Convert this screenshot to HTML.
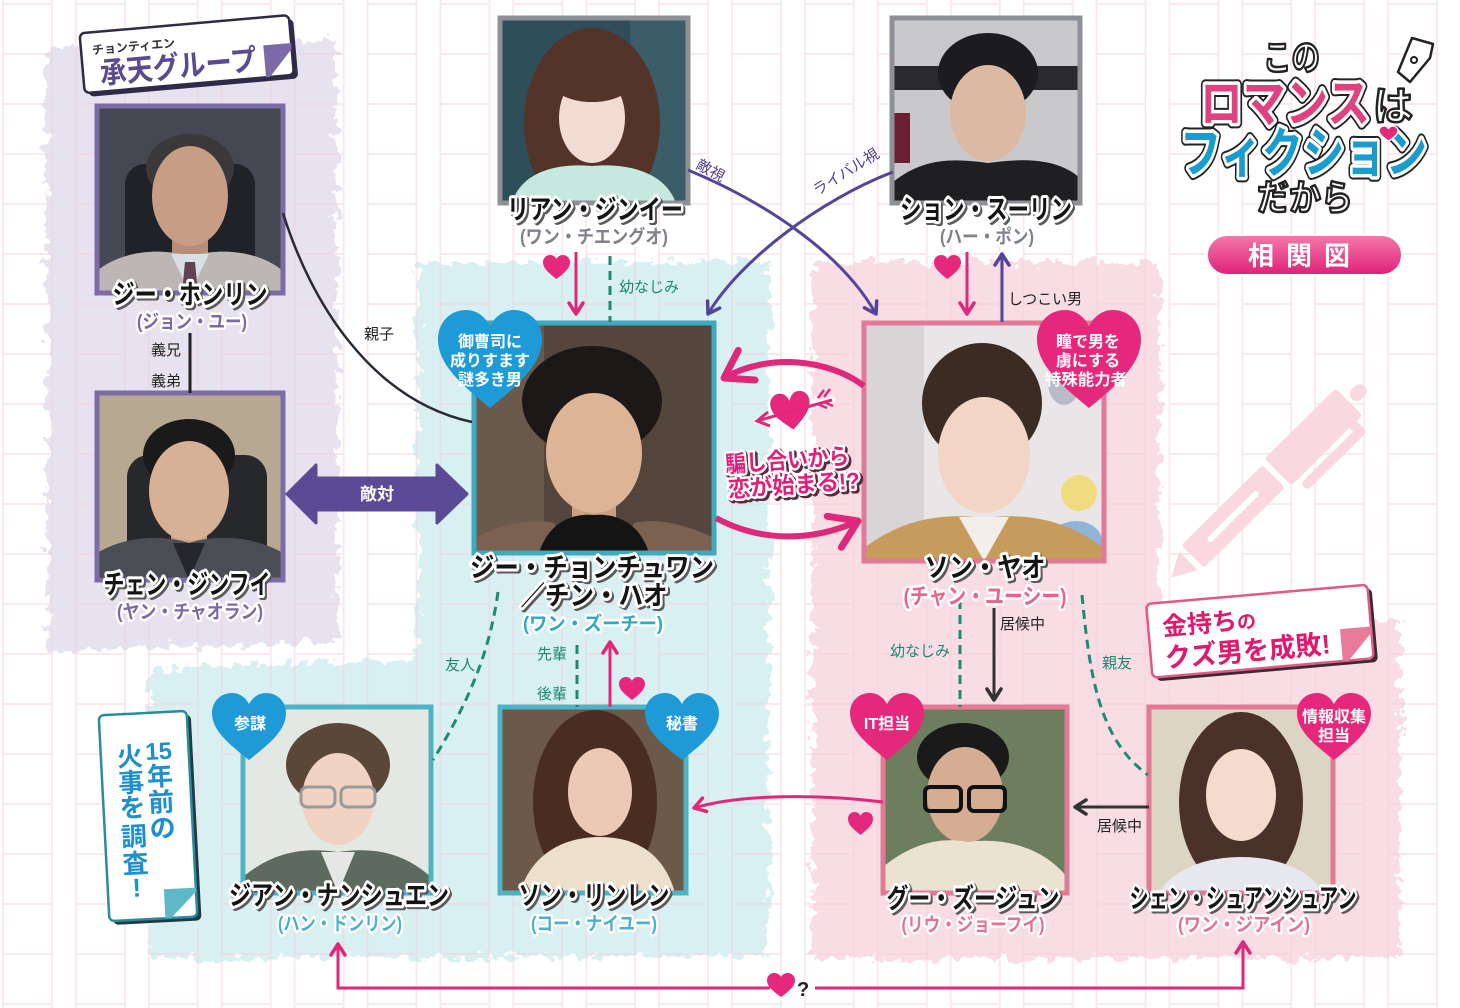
<!DOCTYPE html>
<html><head><meta charset="utf-8">
<style>
html,body{margin:0;padding:0;background:#fff;}
svg{display:block;}
svg text{font-family:"Liberation Sans","Noto Sans CJK JP",sans-serif;font-weight:bold;}
.n0{fill:#5a5a5a;stroke:#5a5a5a;stroke-width:6;stroke-linejoin:round;}
.n1{fill:#141414;stroke:#fff;stroke-width:6;stroke-linejoin:round;paint-order:stroke;}
.s1{stroke:#fff;stroke-width:5;stroke-linejoin:round;paint-order:stroke;}
.lb{font-size:15px;font-weight:normal;fill:#222;}
.lg{font-size:15px;font-weight:normal;fill:#1c8a74;}
.lp{font-size:15px;font-weight:normal;fill:#4f4190;}
.hw{fill:#fff;font-size:16px;text-anchor:middle;}
.fr{fill:none;stroke-width:5;}
</style></head>
<body>
<svg width="1460" height="1008" viewBox="0 0 1460 1008" xmlns="http://www.w3.org/2000/svg">
<defs>
<pattern id="grid" patternUnits="userSpaceOnUse" x="2" y="3" width="72.9" height="50">
<path d="M1 0V50M50 0V50M1 1H50" stroke="#f3cfd9" stroke-width="1.8" fill="none"/>
</pattern>
<filter id="rough" filterUnits="userSpaceOnUse" x="0" y="0" width="1460" height="1008">
<feTurbulence type="fractalNoise" baseFrequency="0.09" numOctaves="3" seed="3"/>
<feDisplacementMap in="SourceGraphic" scale="22" xChannelSelector="R" yChannelSelector="G"/>
</filter>
<linearGradient id="pill" x1="0" y1="0" x2="0" y2="1"><stop offset="0" stop-color="#f57aab"/><stop offset="1" stop-color="#df1f78"/></linearGradient>
<marker id="mp" markerUnits="userSpaceOnUse" markerWidth="20" markerHeight="20" refX="14" refY="10" orient="auto"><path d="M3 3L14 10L3 17" fill="none" stroke="#e0287a" stroke-width="3.5" stroke-linecap="round" stroke-linejoin="round"/></marker>
<marker id="mv" markerUnits="userSpaceOnUse" markerWidth="20" markerHeight="20" refX="14" refY="10" orient="auto"><path d="M3 3L14 10L3 17" fill="none" stroke="#55459a" stroke-width="3.5" stroke-linecap="round" stroke-linejoin="round"/></marker>
<marker id="md" markerUnits="userSpaceOnUse" markerWidth="20" markerHeight="20" refX="14" refY="10" orient="auto"><path d="M3 3L14 10L3 17" fill="none" stroke="#333" stroke-width="3.5" stroke-linecap="round" stroke-linejoin="round"/></marker>
<marker id="mb" markerUnits="userSpaceOnUse" markerWidth="44" markerHeight="44" refX="34" refY="22" orient="auto"><path d="M8 5L34 22L8 39" fill="none" stroke="#e0287a" stroke-width="7" stroke-linecap="round" stroke-linejoin="round"/></marker>
</defs>

<rect width="1460" height="1008" fill="#fff"/>

<g filter="url(#rough)">
<path d="M45,48 L336,40 L338,642 L48,652Z" fill="#e6e2ef"/>
<path d="M417,262 L770,262 L768,956 L148,958 L148,668 L418,660Z" fill="#d9f0f3"/>
<path d="M812,262 L1160,262 L1160,624 L1400,620 L1400,958 L812,960Z" fill="#f9dde5"/>
</g>

<rect width="1460" height="1008" fill="url(#grid)" opacity="0.5"/>

<!-- pen decoration -->
<g transform="translate(1268,482) rotate(-44.7)" fill="#f9d8df">
<path d="M-136,0 L-112,-13 L-112,13Z"/>
<rect x="-106" y="-16" width="114" height="32" rx="3"/>
<rect x="14" y="-19" width="100" height="38" rx="3"/>
<rect x="118" y="-7" width="18" height="14" rx="7"/>
<rect x="22" y="24" width="82" height="10" rx="5"/>
<rect x="96" y="16" width="10" height="18" rx="4"/>
<rect x="-84" y="-3" width="70" height="6" rx="3" fill="#fff"/>
</g>

<!-- ===== photos ===== -->
<svg x="97" y="106" width="186" height="187">
<rect width="186" height="187" fill="#454852"/>
<rect x="28" y="58" width="130" height="129" rx="20" fill="#1f2226"/>
<ellipse cx="93" cy="62" rx="44" ry="34" fill="#3a3838"/>
<rect x="75" y="120" width="36" height="35" fill="#b68e79"/>
<ellipse cx="93" cy="90" rx="38" ry="50" fill="#c79d86"/>
<path d="M0 187L0 165C20 148 55 140 93 150C131 140 166 148 186 165L186 187Z" fill="#bcb7b5"/>
<path d="M74 148L93 187L112 148Z" fill="#d9dee6"/>
<path d="M88 156L98 156L101 187L85 187Z" fill="#5e4452"/>
</svg>
<rect x="97" y="106" width="186" height="187" class="fr" stroke="#7b6ba6"/>

<svg x="97" y="393" width="186" height="187">
<rect width="186" height="187" fill="#b7a892"/>
<rect x="30" y="62" width="140" height="125" rx="22" fill="#26282c"/>
<ellipse cx="92" cy="62" rx="46" ry="36" fill="#1a1a1a"/>
<rect x="74" y="125" width="36" height="30" fill="#c49c82"/>
<ellipse cx="92" cy="98" rx="40" ry="50" fill="#d7b196"/>
<path d="M0 187L0 160C25 145 60 140 92 150C124 140 160 145 186 160L186 187Z" fill="#4a4d53"/>
<path d="M76 150L92 187L108 150Z" fill="#25262b"/>
</svg>
<rect x="97" y="393" width="186" height="187" class="fr" stroke="#7b6ba6"/>

<svg x="500" y="18" width="188" height="185">
<rect width="188" height="185" fill="#2e4e58"/>
<rect x="130" y="0" width="58" height="185" fill="#3b5d67"/>
<ellipse cx="92" cy="105" rx="68" ry="95" fill="#523429"/>
<ellipse cx="92" cy="100" rx="33" ry="45" fill="#f1dbd2"/>
<ellipse cx="92" cy="62" rx="42" ry="22" fill="#523429"/>
<path d="M12 185C22 152 60 145 92 148C124 145 164 152 176 185Z" fill="#c7e8df"/>
</svg>
<rect x="500" y="18" width="188" height="185" class="fr" stroke="#8d9097" stroke-width="4"/>

<svg x="892" y="18" width="188" height="185">
<rect width="188" height="185" fill="#c9c9cb"/>
<rect x="0" y="48" width="188" height="24" fill="#2a2a2e"/>
<rect x="0" y="95" width="18" height="50" fill="#6a2030"/>
<ellipse cx="96" cy="55" rx="50" ry="40" fill="#1c1c1e"/>
<ellipse cx="96" cy="95" rx="38" ry="48" fill="#dcb9a2"/>
<path d="M0 185L0 165C30 140 60 140 96 145C132 140 165 140 188 160L188 185Z" fill="#1f1f22"/>
</svg>
<rect x="892" y="18" width="188" height="185" class="fr" stroke="#8d9097" stroke-width="4"/>

<svg x="474" y="323" width="240" height="230">
<rect width="240" height="230" fill="#54463c"/>
<rect x="0" y="0" width="70" height="230" fill="#6a5a4c"/>
<ellipse cx="118" cy="78" rx="70" ry="55" fill="#1c1818"/>
<rect x="98" y="165" width="44" height="35" fill="#c9a084"/>
<ellipse cx="120" cy="130" rx="48" ry="60" fill="#ddb596"/>
<path d="M0 230L0 215C30 200 60 195 80 200L95 230Z" fill="#7a6150"/>
<path d="M240 230L240 215C210 200 180 195 160 200L145 230Z" fill="#7a6150"/>
<path d="M65 230C75 198 100 190 120 192C140 190 165 198 175 230Z" fill="#141414"/>
</svg>
<rect x="474" y="323" width="240" height="230" class="fr" stroke="#3fa9bd"/>

<svg x="864" y="323" width="240" height="238">
<rect width="240" height="238" fill="#eae6e8"/>
<rect x="0" y="0" width="60" height="238" fill="#d9d4d6"/>
<ellipse cx="215" cy="170" rx="18" ry="18" fill="#f0dc80"/>
<ellipse cx="212" cy="218" rx="26" ry="20" fill="#90b4d8"/>
<ellipse cx="200" cy="60" rx="16" ry="22" fill="#b8bcc8"/>
<ellipse cx="118" cy="80" rx="60" ry="60" fill="#3c2b22"/>
<ellipse cx="120" cy="132" rx="46" ry="58" fill="#f3d5c5"/>
<path d="M0 238L0 225C40 195 80 190 120 195C160 190 200 195 240 225L240 238Z" fill="#c59c5c"/>
<path d="M95 194L120 238L145 194Z" fill="#f2eee9"/>
</svg>
<rect x="864" y="323" width="240" height="238" class="fr" stroke="#e07a95"/>

<svg x="243" y="707" width="188" height="186">
<rect width="188" height="186" fill="#e4e8e2"/>
<ellipse cx="95" cy="58" rx="52" ry="42" fill="#5b4738"/>
<ellipse cx="95" cy="92" rx="36" ry="46" fill="#f0d3c2"/>
<rect x="58" y="80" width="34" height="20" rx="6" fill="none" stroke="#9a9a9a" stroke-width="3"/>
<rect x="98" y="80" width="34" height="20" rx="6" fill="none" stroke="#9a9a9a" stroke-width="3"/>
<path d="M0 186L0 170C30 145 60 140 95 145C130 140 160 145 188 170L188 186Z" fill="#5d6b5f"/>
<path d="M78 145L95 186L112 145Z" fill="#e6e6e6"/>
</svg>
<rect x="243" y="707" width="188" height="186" class="fr" stroke="#4fb3c4"/>

<svg x="500" y="707" width="186" height="186">
<rect width="186" height="186" fill="#6d5949"/>
<ellipse cx="95" cy="95" rx="62" ry="92" fill="#4a2d22"/>
<ellipse cx="100" cy="85" rx="32" ry="44" fill="#ebc9b5"/>
<path d="M20 186C30 150 60 130 100 130C140 130 165 150 175 186Z" fill="#ece0cb"/>
</svg>
<rect x="500" y="707" width="186" height="186" class="fr" stroke="#4fb3c4"/>

<svg x="883" y="707" width="184" height="186">
<rect width="184" height="186" fill="#6d7e5f"/>
<ellipse cx="80" cy="50" rx="46" ry="34" fill="#1a1a1a"/>
<ellipse cx="82" cy="88" rx="38" ry="48" fill="#d5ad92"/>
<rect x="42" y="80" width="36" height="24" rx="5" fill="none" stroke="#111" stroke-width="4"/>
<rect x="86" y="80" width="36" height="24" rx="5" fill="none" stroke="#111" stroke-width="4"/>
<path d="M0 186L0 160C30 135 60 130 85 135C120 130 160 140 184 170L184 186Z" fill="#ebe3d1"/>
</svg>
<rect x="883" y="707" width="184" height="186" class="fr" stroke="#e07a95"/>

<svg x="1149" y="707" width="184" height="186">
<rect width="184" height="186" fill="#ddd5c3"/>
<ellipse cx="92" cy="95" rx="62" ry="90" fill="#4a3129"/>
<ellipse cx="92" cy="88" rx="35" ry="46" fill="#f4dbcd"/>
<path d="M10 186C25 160 60 150 92 150C124 150 160 160 174 186Z" fill="#e6e7ef"/>
</svg>
<rect x="1149" y="707" width="184" height="186" class="fr" stroke="#e07a95"/>

<!-- ===== connectors ===== -->
<path d="M283,213 C310,300 370,400 472,422" fill="none" stroke="#2a2a35" stroke-width="2.5"/>
<text class="lb" x="364" y="339">親子</text>
<line x1="190" y1="333" x2="190" y2="393" stroke="#222" stroke-width="3"/>
<text class="lb" x="151" y="355">義兄</text>
<text class="lb" x="151" y="386">義弟</text>

<path d="M576,252 L576,314" stroke="#e0287a" stroke-width="3" marker-end="url(#mp)"/>
<path d="M610,256 L610,322" stroke="#1c8a74" stroke-width="3" stroke-dasharray="9 6"/>
<text class="lg" x="619" y="292">幼なじみ</text>
<path d="M688,170 C760,200 840,250 876,314" fill="none" stroke="#55459a" stroke-width="3" marker-end="url(#mv)"/>
<path d="M893,172 C820,200 740,260 708,314" fill="none" stroke="#55459a" stroke-width="3" marker-end="url(#mv)"/>
<text class="lp" transform="translate(695,168) rotate(28)">敵視</text>
<text class="lp" transform="translate(817,196) rotate(-32)">ライバル視</text>
<path d="M967,252 L967,314" stroke="#e0287a" stroke-width="3" marker-end="url(#mp)"/>
<path d="M1002,322 L1002,254" stroke="#55459a" stroke-width="3" marker-end="url(#mv)"/>
<text class="lb" x="1008" y="304">しつこい男</text>

<path d="M864,386 C830,360 770,352 724,378" fill="none" stroke="#e0287a" stroke-width="6" marker-end="url(#mb)"/>
<path d="M716,518 C760,542 812,542 858,521" fill="none" stroke="#e0287a" stroke-width="6" marker-end="url(#mb)"/>

<polygon points="287,494 316,465 316,478 437,478 437,465 467,494 437,523 437,510 316,510 316,523" fill="#5b4b97" stroke="#5b4b97" stroke-width="3" stroke-linejoin="round"/>
<text x="377" y="500" fill="#fff" font-size="17" text-anchor="middle">敵対</text>

<path d="M498,592 C490,650 470,700 433,760" fill="none" stroke="#1c8a74" stroke-width="3" stroke-dasharray="9 6"/>
<text class="lg" x="445" y="670">友人</text>
<path d="M577,645 L577,707" stroke="#1c8a74" stroke-width="3" stroke-dasharray="9 6"/>
<text class="lg" x="537" y="659">先輩</text>
<text class="lg" x="537" y="699">後輩</text>
<path d="M610,707 L610,642" stroke="#e0287a" stroke-width="3" marker-end="url(#mp)"/>

<path d="M960,600 L960,707" stroke="#1c8a74" stroke-width="3" stroke-dasharray="9 6"/>
<text class="lg" x="890" y="656">幼なじみ</text>
<path d="M994,608 L994,700" stroke="#333" stroke-width="3" marker-end="url(#md)"/>
<text class="lb" x="1000" y="629">居候中</text>
<path d="M1082,595 C1090,680 1100,740 1148,775" fill="none" stroke="#1c8a74" stroke-width="3" stroke-dasharray="9 6"/>
<text class="lg" x="1102" y="668">親友</text>
<path d="M1149,807 L1075,807" stroke="#333" stroke-width="3" marker-end="url(#md)"/>
<text class="lb" x="1097" y="831">居候中</text>
<path d="M883,802 C820,794 740,794 694,808" fill="none" stroke="#e0287a" stroke-width="3" marker-end="url(#mp)"/>

<path d="M770,988 L338,988 L338,944" fill="none" stroke="#e0287a" stroke-width="3" marker-end="url(#mp)"/>
<path d="M815,988 L1243,988 L1243,942" fill="none" stroke="#e0287a" stroke-width="3" marker-end="url(#mp)"/>
<path transform="translate(767,973) scale(.28,.267)" d="M50 90C22 68 0 50 0 27C0 11 12 0 27 0C38 0 46 7 50 15C54 7 62 0 73 0C88 0 100 11 100 27C100 50 78 68 50 90Z" fill="#e5287b"/>
<text x="797" y="996" font-size="20" fill="#222" font-family="Liberation Serif,serif">?</text>

<path transform="translate(543,255) scale(.27,.267)" d="M50 90C22 68 0 50 0 27C0 11 12 0 27 0C38 0 46 7 50 15C54 7 62 0 73 0C88 0 100 11 100 27C100 50 78 68 50 90Z" fill="#e5287b"/>
<path transform="translate(934,255) scale(.27,.267)" d="M50 90C22 68 0 50 0 27C0 11 12 0 27 0C38 0 46 7 50 15C54 7 62 0 73 0C88 0 100 11 100 27C100 50 78 68 50 90Z" fill="#e5287b"/>
<path transform="translate(619,677) scale(.26,.256)" d="M50 90C22 68 0 50 0 27C0 11 12 0 27 0C38 0 46 7 50 15C54 7 62 0 73 0C88 0 100 11 100 27C100 50 78 68 50 90Z" fill="#e5287b"/>
<path transform="translate(848,812) scale(.25,.256)" d="M50 90C22 68 0 50 0 27C0 11 12 0 27 0C38 0 46 7 50 15C54 7 62 0 73 0C88 0 100 11 100 27C100 50 78 68 50 90Z" fill="#e5287b"/>

<!-- center heart with arrow -->
<line x1="757" y1="421" x2="832" y2="400" stroke="#fff" stroke-width="7" stroke-linecap="round"/>
<path transform="translate(770,391) rotate(-8 20 20) scale(.42,.45)" d="M50 90C22 68 0 50 0 27C0 11 12 0 27 0C38 0 46 7 50 15C54 7 62 0 73 0C88 0 100 11 100 27C100 50 78 68 50 90Z" fill="#e5287b" stroke="#fff" stroke-width="6"/>
<line x1="757" y1="421" x2="832" y2="400" stroke="#e0287a" stroke-width="3"/>
<path d="M768,412 L757,421 L770,426" fill="none" stroke="#e0287a" stroke-width="3"/>
<path d="M818,398 l6,-8 M824,397 l6,-8 M818,404 l9,4 M824,402 l9,4" stroke="#e0287a" stroke-width="2.5"/>

<!-- center phrase -->
<g transform="rotate(-4 790 472)" font-size="23">
<text x="728" y="470" fill="#5a2a40" stroke="#5a2a40" stroke-width="6" stroke-linejoin="round" textLength="124" lengthAdjust="spacingAndGlyphs">騙し合いから</text>
<text x="726" y="468" fill="#e41e78" stroke="#fff" stroke-width="5" stroke-linejoin="round" paint-order="stroke" textLength="124" lengthAdjust="spacingAndGlyphs">騙し合いから</text>
<text x="729" y="495" fill="#5a2a40" stroke="#5a2a40" stroke-width="6" stroke-linejoin="round" textLength="132" lengthAdjust="spacingAndGlyphs">恋が始まる!?</text>
<text x="727" y="493" fill="#e41e78" stroke="#fff" stroke-width="5" stroke-linejoin="round" paint-order="stroke" textLength="132" lengthAdjust="spacingAndGlyphs">恋が始まる!?</text>
</g>

<!-- bubble hearts -->
<path transform="translate(438,310) scale(1.04,1.089)" d="M50 90C22 68 0 50 0 27C0 11 12 0 27 0C38 0 46 7 50 15C54 7 62 0 73 0C88 0 100 11 100 27C100 50 78 68 50 90Z" fill="#1e9bd7"/>
<text class="hw" x="490" y="347">御曹司に</text>
<text class="hw" x="490" y="366">成りすます</text>
<text class="hw" x="490" y="385">謎多き男</text>
<path transform="translate(1037,310) scale(1.04,1.089)" d="M50 90C22 68 0 50 0 27C0 11 12 0 27 0C38 0 46 7 50 15C54 7 62 0 73 0C88 0 100 11 100 27C100 50 78 68 50 90Z" fill="#e5287b"/>
<text class="hw" x="1088" y="347">瞳で男を</text>
<text class="hw" x="1088" y="366">虜にする</text>
<text class="hw" x="1086" y="385" textLength="82" lengthAdjust="spacingAndGlyphs">特殊能力者</text>

<path transform="translate(212,693) scale(.74,.744)" d="M50 90C22 68 0 50 0 27C0 11 12 0 27 0C38 0 46 7 50 15C54 7 62 0 73 0C88 0 100 11 100 27C100 50 78 68 50 90Z" fill="#1e9bd7"/>
<text class="hw" x="250" y="729" font-size="15">参謀</text>
<path transform="translate(645,693) scale(.74,.744)" d="M50 90C22 68 0 50 0 27C0 11 12 0 27 0C38 0 46 7 50 15C54 7 62 0 73 0C88 0 100 11 100 27C100 50 78 68 50 90Z" fill="#1e9bd7"/>
<text class="hw" x="682" y="729" font-size="15">秘書</text>
<path transform="translate(850,693) scale(.74,.744)" d="M50 90C22 68 0 50 0 27C0 11 12 0 27 0C38 0 46 7 50 15C54 7 62 0 73 0C88 0 100 11 100 27C100 50 78 68 50 90Z" fill="#e5287b"/>
<text class="hw" x="887" y="729" font-size="15">IT担当</text>
<path transform="translate(1297,693) scale(.74,.744)" d="M50 90C22 68 0 50 0 27C0 11 12 0 27 0C38 0 46 7 50 15C54 7 62 0 73 0C88 0 100 11 100 27C100 50 78 68 50 90Z" fill="#e5287b"/>
<text class="hw" x="1334" y="722" font-size="14">情報収集</text>
<text class="hw" x="1334" y="741" font-size="14">担当</text>

<!-- ===== names ===== -->
<g font-size="27" text-anchor="middle">
<text class="n0" x="192" y="306" textLength="155" lengthAdjust="spacingAndGlyphs">ジー・ホンリン</text>
<text class="n1" x="190" y="304" textLength="155" lengthAdjust="spacingAndGlyphs">ジー・ホンリン</text>
<text class="n0" x="189" y="596" textLength="167" lengthAdjust="spacingAndGlyphs">チェン・ジンフイ</text>
<text class="n1" x="187" y="594" textLength="167" lengthAdjust="spacingAndGlyphs">チェン・ジンフイ</text>
<text class="n0" x="597" y="221" textLength="176" lengthAdjust="spacingAndGlyphs">リアン・ジンイー</text>
<text class="n1" x="595" y="219" textLength="176" lengthAdjust="spacingAndGlyphs">リアン・ジンイー</text>
<text class="n0" x="988" y="221" textLength="172" lengthAdjust="spacingAndGlyphs">ション・スーリン</text>
<text class="n1" x="986" y="219" textLength="172" lengthAdjust="spacingAndGlyphs">ション・スーリン</text>
<text class="n0" x="594" y="579" textLength="244" lengthAdjust="spacingAndGlyphs">ジー・チョンチュワン</text>
<text class="n1" x="592" y="577" textLength="244" lengthAdjust="spacingAndGlyphs">ジー・チョンチュワン</text>
<text class="n0" x="596" y="607" textLength="147" lengthAdjust="spacingAndGlyphs">／チン・ハオ</text>
<text class="n1" x="594" y="605" textLength="147" lengthAdjust="spacingAndGlyphs">／チン・ハオ</text>
<text class="n0" x="987" y="579" textLength="121" lengthAdjust="spacingAndGlyphs">ソン・ヤオ</text>
<text class="n1" x="985" y="577" textLength="121" lengthAdjust="spacingAndGlyphs">ソン・ヤオ</text>
<text class="n0" x="341" y="907" textLength="220" lengthAdjust="spacingAndGlyphs">ジアン・ナンシュエン</text>
<text class="n1" x="339" y="905" textLength="220" lengthAdjust="spacingAndGlyphs">ジアン・ナンシュエン</text>
<text class="n0" x="596" y="907" textLength="151" lengthAdjust="spacingAndGlyphs">ソン・リンレン</text>
<text class="n1" x="594" y="905" textLength="151" lengthAdjust="spacingAndGlyphs">ソン・リンレン</text>
<text class="n0" x="975" y="910" textLength="173" lengthAdjust="spacingAndGlyphs">グー・ズージュン</text>
<text class="n1" x="973" y="908" textLength="173" lengthAdjust="spacingAndGlyphs">グー・ズージュン</text>
<text class="n0" x="1245" y="910" textLength="227" lengthAdjust="spacingAndGlyphs">シェン・シュアンシュアン</text>
<text class="n1" x="1243" y="908" textLength="227" lengthAdjust="spacingAndGlyphs">シェン・シュアンシュアン</text>
</g>
<g font-size="19" text-anchor="middle">
<text class="s1" x="192" y="328" fill="#7a6aa4" textLength="110" lengthAdjust="spacingAndGlyphs">(ジョン・ユー)</text>
<text class="s1" x="190" y="618" fill="#7a6aa4" textLength="146" lengthAdjust="spacingAndGlyphs">(ヤン・チャオラン)</text>
<text class="s1" x="594" y="243" fill="#7f818b" textLength="148" lengthAdjust="spacingAndGlyphs">(ワン・チエングオ)</text>
<text class="s1" x="987" y="243" fill="#7f818b" textLength="94" lengthAdjust="spacingAndGlyphs">(ハー・ポン)</text>
<text class="s1" x="593" y="630" fill="#33a6c2" textLength="140" lengthAdjust="spacingAndGlyphs">(ワン・ズーチー)</text>
<text class="s1" x="985" y="604" fill="#e8648c" font-size="22" textLength="163" lengthAdjust="spacingAndGlyphs">(チャン・ユーシー)</text>
<text class="s1" x="340" y="930" fill="#4db0c8" textLength="124" lengthAdjust="spacingAndGlyphs">(ハン・ドンリン)</text>
<text class="s1" x="594" y="930" fill="#4db0c8" textLength="126" lengthAdjust="spacingAndGlyphs">(コー・ナイユー)</text>
<text class="s1" x="973" y="931" fill="#e57095" textLength="143" lengthAdjust="spacingAndGlyphs">(リウ・ジョーフイ)</text>
<text class="s1" x="1244" y="931" fill="#e57095" textLength="132" lengthAdjust="spacingAndGlyphs">(ワン・ジアイン)</text>
</g>

<!-- ===== tags ===== -->
<g transform="rotate(-5 188 57)">
<rect x="86" y="28" width="210" height="60" rx="5" fill="#2e2a48"/>
<rect x="82" y="24" width="210" height="60" rx="5" fill="#fff" stroke="#2e2a48" stroke-width="2.5"/>
<polygon points="264,52 292,52 292,58 268,84 264,84" fill="#7b6aa8"/>
<text x="93" y="46" font-size="12" font-weight="normal" fill="#333">チョンティエン</text>
<text x="99" y="76" font-size="30" fill="#5b4a8e" textLength="157" lengthAdjust="spacingAndGlyphs">承天グループ</text>
</g>

<g transform="rotate(-5 1262 632)">
<rect x="1153" y="598" width="222" height="74" rx="5" fill="#3a2a34"/>
<rect x="1149" y="594" width="222" height="74" rx="5" fill="#fff" stroke="#e05a88" stroke-width="2.5"/>
<polygon points="1340,636 1371,636 1371,642 1346,668 1340,668" fill="#e87a9a"/>
<text x="1163" y="627" font-size="25" fill="#e0186e">金持ち<tspan font-size="19">の</tspan></text>
<text x="1163" y="659" font-size="27" fill="#e0186e" textLength="166" lengthAdjust="spacingAndGlyphs">クズ男を成敗!</text>
</g>

<g transform="rotate(-3 148 816)">
<rect x="108" y="717" width="88" height="206" rx="5" fill="#1f3a44"/>
<rect x="104" y="713" width="88" height="206" rx="5" fill="#fff" stroke="#2a8aa0" stroke-width="2.5"/>
<polygon points="160,890 192,890 192,894 166,919 160,919" fill="#5fb8c8"/>
<g font-size="26" fill="#1e8fcf" text-anchor="middle">
<text x="162" y="760" font-size="24">15</text>
<text x="162" y="786">年</text>
<text x="162" y="812">前</text>
<text x="162" y="838">の</text>
<text x="133" y="765">火</text>
<text x="133" y="791">事</text>
<text x="133" y="816">を</text>
<text x="133" y="845">調</text>
<text x="133" y="872">査</text>
<text x="133" y="896">!</text>
</g>
</g>

<!-- ===== logo ===== -->
<g stroke-linejoin="round">
<polygon points="1398,72 1412,38 1433,44 1430,58 1410,82" fill="#fff" stroke="#222" stroke-width="2.5"/>
<circle cx="1414" cy="60" r="3" fill="none" stroke="#222" stroke-width="2"/>
<text x="1263" y="70" font-size="36" fill="#fff" stroke="#222" stroke-width="2.5" textLength="57" lengthAdjust="spacingAndGlyphs">この</text>
<text x="1200" y="122" font-size="52" fill="none" stroke="#222" stroke-width="11" textLength="170" lengthAdjust="spacingAndGlyphs">ロマンス</text>
<text x="1200" y="122" font-size="52" fill="none" stroke="#fff" stroke-width="7" textLength="170" lengthAdjust="spacingAndGlyphs">ロマンス</text>
<text x="1200" y="122" font-size="52" fill="#e2417f" textLength="170" lengthAdjust="spacingAndGlyphs">ロマンス</text>
<text x="1373" y="120" font-size="40" fill="#fff" stroke="#222" stroke-width="2.5" textLength="40" lengthAdjust="spacingAndGlyphs">は</text>
<text x="1180" y="172" font-size="54" fill="none" stroke="#222" stroke-width="11" textLength="247" lengthAdjust="spacingAndGlyphs">フィクション</text>
<text x="1180" y="172" font-size="54" fill="none" stroke="#fff" stroke-width="7" textLength="247" lengthAdjust="spacingAndGlyphs">フィクション</text>
<text x="1180" y="172" font-size="54" fill="#1a9ccf" textLength="247" lengthAdjust="spacingAndGlyphs">フィクション</text>
<path transform="translate(1379,126) scale(.19,.17)" d="M50 90C22 68 0 50 0 27C0 11 12 0 27 0C38 0 46 7 50 15C54 7 62 0 73 0C88 0 100 11 100 27C100 50 78 68 50 90Z" fill="#e5287b" stroke="#fff" stroke-width="8"/>
<text x="1257" y="210" font-size="36" fill="#fff" stroke="#222" stroke-width="2.5" textLength="96" lengthAdjust="spacingAndGlyphs">だから</text>
</g>
<rect x="1207" y="235" width="195" height="40" rx="20" fill="url(#pill)" stroke="#fff" stroke-width="2"/>
<text x="1305" y="265" font-size="26" fill="#fff" text-anchor="middle" letter-spacing="12">相関図</text>
</svg>
</body></html>
